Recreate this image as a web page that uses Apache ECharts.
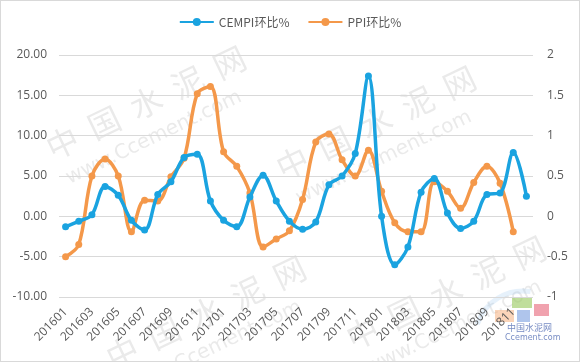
<!DOCTYPE html>
<html>
<head>
<meta charset="utf-8">
<script src="https://cdn.jsdelivr.net/npm/echarts@6/dist/echarts.min.js"></script>
<style>
html,body{margin:0;padding:0;background:#fff;}
#c{width:578px;height:360px;border:1px solid #d9d9d9;}
</style>
</head>
<body>
<div id="c"></div>
<script>
var categories = ['201601','201602','201603','201604','201605','201606','201607','201608','201609','201610','201611','201612',
  '201701','201702','201703','201704','201705','201706','201707','201708','201709','201710','201711','201712',
  '201801','201802','201803','201804','201805','201806','201807','201808','201809','201810','201811','201812'];
var cempi = [-1.3,-0.6,0.2,3.7,2.6,-0.5,-1.7,2.7,4.3,7.3,7.7,1.9,
  -0.5,-1.3,2.4,5.1,1.9,-0.6,-1.6,-0.7,3.9,5.0,7.8,17.4,
  0.0,-6.0,-3.8,3.0,4.7,0.4,-1.5,-0.6,2.7,2.9,7.9,2.5];
var ppi = [-0.5,-0.35,0.5,0.71,0.5,-0.19,0.2,0.19,0.49,0.72,1.52,1.61,
  0.8,0.62,0.29,-0.38,-0.28,-0.18,0.21,0.92,1.02,0.7,0.5,0.82,
  0.31,-0.08,-0.19,-0.19,0.43,0.31,0.1,0.42,0.62,0.41,-0.19,null];
var leftTicks = {min:-10, max:20, interval:5};
var rightTicks = {min:-1, max:2, interval:0.5};

var chart = echarts.init(document.getElementById('c'));
var wmColor = 'rgba(150,150,150,0.2)';
function wm(x, y) {
  return [
    {type:'text', left:x, top:y, rotation:Math.PI/7, silent:true,
     style:{text:'中  国  水  泥  网', fill:wmColor, font:'32px "Noto Sans CJK SC"'}},
    {type:'text', left:x+22, top:y+46, rotation:Math.PI/7, silent:true,
     style:{text:'www.Ccement.com', fill:wmColor, font:'20px "DejaVu Sans"'}}
  ];
}
var graphics = [].concat(wm(40,40), wm(270,60), wm(100,250), wm(340,230));
graphics.push(
  {type:'arc', silent:true, shape:{cx:522, cy:338, r:48, startAngle:Math.PI*1.1, endAngle:Math.PI*1.55},
   style:{stroke:'rgba(140,190,235,0.22)', lineWidth:5, fill:null}},
  {type:'rect', silent:true, shape:{x:494, y:309, width:19, height:12}, style:{fill:'rgba(244,160,100,0.45)'}},
  {type:'rect', silent:true, shape:{x:511, y:297, width:20, height:10}, style:{fill:'rgba(150,200,90,0.6)'}},
  {type:'rect', silent:true, shape:{x:516, y:309, width:13, height:12}, style:{fill:'rgba(110,150,220,0.55)'}},
  {type:'rect', silent:true, shape:{x:533, y:303, width:15, height:12}, style:{fill:'rgba(230,100,120,0.6)'}},
  {type:'text', silent:true, left:506, top:322,
   style:{text:'中国水泥网', fill:'rgba(60,90,170,0.7)', font:'9px "Noto Sans CJK SC"'}},
  {type:'text', silent:true, left:504, top:333,
   style:{text:'Ccement.com', fill:'rgba(60,90,170,0.7)', font:'8px "DejaVu Sans"'}}
);

chart.setOption({
  backgroundColor:'#fff',
  animation:false,
  graphic: graphics,
  legend:{
    top:10, left:'center', itemWidth:34, itemHeight:10, itemGap:18,
    textStyle:{color:'#595959', fontSize:12, fontFamily:'"Noto Sans CJK SC"'},
    data:['CEMPI环比%','PPI环比%']
  },
  grid:{left:58, right:46, top:54, bottom:64},
  xAxis:{
    type:'category', data:categories, boundaryGap:true,
    axisLine:{show:false}, axisTick:{show:false},
    axisLabel:{interval:1, rotate:45, color:'#595959', fontSize:12, fontFamily:'"Open Sans"', margin:13}
  },
  yAxis:[{
    type:'value', min:leftTicks.min, max:leftTicks.max, interval:leftTicks.interval,
    axisLine:{show:false}, axisTick:{show:false},
    axisLabel:{color:'#595959', fontSize:12, fontFamily:'"Open Sans"', margin:12,
      formatter:function(v){return v.toFixed(2);}},
    splitLine:{lineStyle:{color:'#d9d9d9', width:1}}
  },{
    type:'value', min:rightTicks.min, max:rightTicks.max, interval:rightTicks.interval,
    axisLine:{show:false}, axisTick:{show:false},
    axisLabel:{color:'#595959', fontSize:12, fontFamily:'"Open Sans"', margin:14},
    splitLine:{show:false}
  }],
  series:[{
    name:'CEMPI环比%', type:'line', yAxisIndex:0, data:cempi, smooth:0.35,
    symbol:'circle', symbolSize:7, z:3,
    lineStyle:{width:3.5, color:'#1AA3E0'}, itemStyle:{color:'#1AA3E0'}
  },{
    name:'PPI环比%', type:'line', yAxisIndex:1, data:ppi, smooth:0.35,
    symbol:'circle', symbolSize:7, z:2,
    lineStyle:{width:3.5, color:'#F4984A'}, itemStyle:{color:'#F4984A'}
  }]
});
</script>
</body>
</html>
